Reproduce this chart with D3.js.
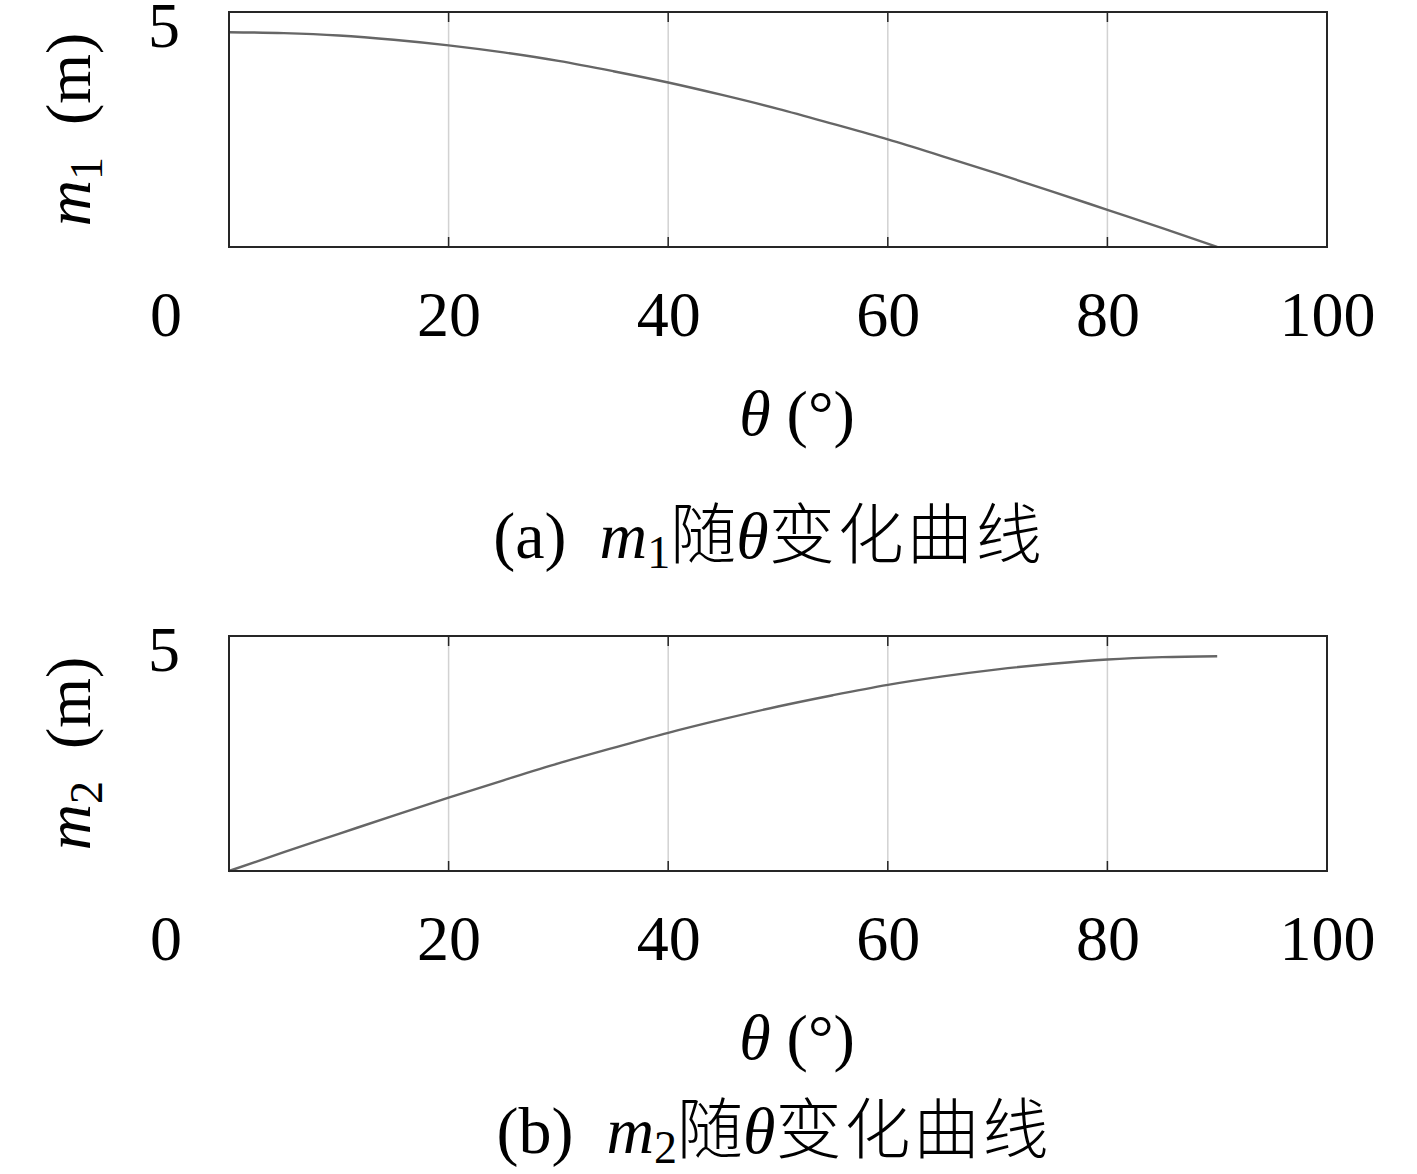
<!DOCTYPE html>
<html>
<head>
<meta charset="utf-8">
<script src="https://cdn.jsdelivr.net/npm/d3@7"></script>
<style>
  html, body { margin: 0; padding: 0; background: #fff; }
  svg { display: block; }
  text { font-family: "Liberation Serif", "DejaVu Serif", serif; fill: #000; }
  .cjk { font-family: "Noto Sans CJK SC", sans-serif; font-weight: 300; }
</style>
</head>
<body>
<div id="chart"></div>
<script>
// values (theta in degrees, m in metres)
const theta = [0, 5, 10, 15, 20, 25, 30, 35, 40, 45, 50, 55, 60, 65, 70, 75, 80, 85, 90];
const m1 = [4.57, 4.55, 4.50, 4.41, 4.29, 4.14, 3.96, 3.74, 3.50, 3.23, 2.94, 2.62, 2.29, 1.93, 1.56, 1.18, 0.79, 0.40, 0];
const m2 = [0, 0.40, 0.79, 1.18, 1.56, 1.93, 2.29, 2.62, 2.94, 3.23, 3.50, 3.74, 3.96, 4.14, 4.29, 4.41, 4.50, 4.55, 4.57];
const xTicks = [20, 40, 60, 80, 100];
const gridTicks = [20, 40, 60, 80];
const xDomain = [0, 100];
const yDomain = [0, 5];

const width = 1417, height = 1174;
const fs = 64;

const svg = d3.select("#chart").append("svg")
  .attr("width", width).attr("height", height)
  .attr("viewBox", [0, 0, width, height]);

const x = d3.scaleLinear().domain(xDomain).range([229, 1327]);

function drawPanel({ top, bottom, values, sub, letter, captionX, captionY }) {
  const y = d3.scaleLinear().domain(yDomain).range([bottom, top]);
  const g = svg.append("g");

  // grid
  g.append("g").selectAll("line").data(gridTicks).join("line")
    .attr("x1", d => x(d)).attr("x2", d => x(d))
    .attr("y1", top).attr("y2", bottom)
    .attr("stroke", "#d2d2d2").attr("stroke-width", 1.5);

  // inner tick marks top and bottom
  const tickLen = 10;
  g.append("g").selectAll("line").data(gridTicks).join("line")
    .attr("x1", d => x(d)).attr("x2", d => x(d))
    .attr("y1", bottom).attr("y2", bottom - tickLen)
    .attr("stroke", "#262626").attr("stroke-width", 1.5);
  g.append("g").selectAll("line").data(gridTicks).join("line")
    .attr("x1", d => x(d)).attr("x2", d => x(d))
    .attr("y1", top).attr("y2", top + tickLen)
    .attr("stroke", "#262626").attr("stroke-width", 1.5);

  // curve
  const pts = theta.map((t, i) => [t, values[i]]);
  g.append("path").datum(pts)
    .attr("fill", "none").attr("stroke", "#666").attr("stroke-width", 2.4)
    .attr("d", d3.line().x(d => x(d[0])).y(d => y(d[1])).curve(d3.curveMonotoneX));

  // box
  g.append("rect")
    .attr("x", x(xDomain[0])).attr("y", y(yDomain[1]))
    .attr("width", x(xDomain[1]) - x(xDomain[0]))
    .attr("height", y(yDomain[0]) - y(yDomain[1]))
    .attr("fill", "none").attr("stroke", "#262626").attr("stroke-width", 2);

  // x tick labels
  const axis = g.append("g")
    .attr("transform", `translate(0,${bottom})`)
    .call(d3.axisBottom(x).tickValues(xTicks).tickSize(0).tickPadding(0));
  axis.select(".domain").remove();
  axis.selectAll("text")
    .attr("font-size", fs).attr("font-family", null)
    .attr("dy", null).attr("y", 89);

  // y labels "5" and "0"
  g.append("text").attr("x", 164).attr("y", y(yDomain[1]) + 35)
    .attr("text-anchor", "middle").attr("font-size", fs).text(yDomain[1]);
  g.append("text").attr("x", 166).attr("y", bottom + 89)
    .attr("text-anchor", "middle").attr("font-size", fs).text(yDomain[0]);

  // y axis title
  const yt = g.append("text")
    .attr("transform", `translate(90,${(top + bottom) / 2}) rotate(-90)`)
    .attr("text-anchor", "middle").attr("font-size", fs);
  yt.append("tspan").attr("font-style", "italic").text("m");
  yt.append("tspan").attr("font-size", fs * 0.72).attr("dy", 12).text(sub);
  yt.append("tspan").attr("dy", -12).text("\u2002(m)");

  // x axis title
  const xt = g.append("text")
    .attr("x", 797).attr("y", bottom + 188)
    .attr("text-anchor", "middle").attr("font-size", fs);
  xt.append("tspan").attr("font-style", "italic").text("θ");
  xt.append("tspan").text(" (°)");

  // caption
  const cap = g.append("text")
    .attr("x", captionX).attr("y", captionY)
    .attr("text-anchor", "middle").attr("font-size", 66);
  cap.append("tspan").text(`(${letter})\u2002`);
  cap.append("tspan").attr("font-style", "italic").text("m");
  cap.append("tspan").attr("font-size", 46).attr("dy", 10).text(sub);
  cap.append("tspan").attr("class", "cjk").attr("dy", -10).text("随");
  cap.append("tspan").attr("font-style", "italic").text("θ");
  cap.append("tspan").attr("class", "cjk").attr("letter-spacing", 3).text("变化曲线");
}

drawPanel({ top: 12, bottom: 247, values: m1, sub: "1", letter: "a", captionX: 769, captionY: 558 });
drawPanel({ top: 636, bottom: 871, values: m2, sub: "2", letter: "b", captionX: 774, captionY: 1153 });
</script>
</body>
</html>
